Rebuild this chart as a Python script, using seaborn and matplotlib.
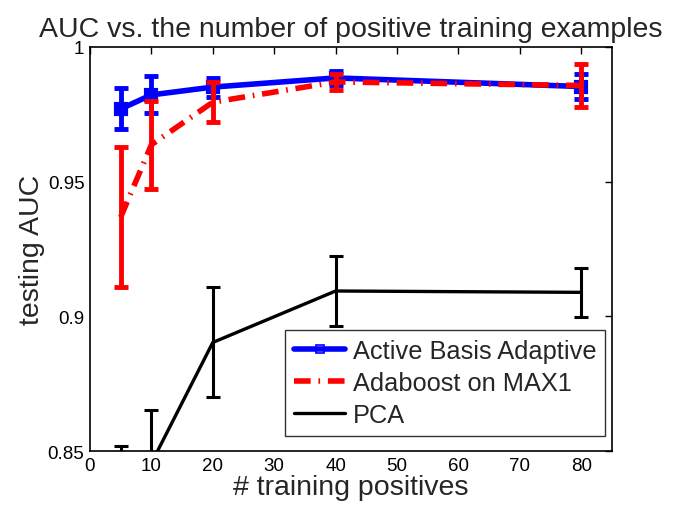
import matplotlib
matplotlib.use("Agg")
import matplotlib.pyplot as plt
from matplotlib.lines import Line2D
import seaborn as sns
import pandas as pd

# number of positive training examples
positives = [5, 10, 20, 40, 80]

# testing AUC (mean) and error half-widths for each method
active_basis = [0.9770, 0.9822, 0.9851, 0.9885, 0.9853]
active_basis_err = [0.0076, 0.0069, 0.0035, 0.0026, 0.0046]

adaboost = [0.9368, 0.9637, 0.9795, 0.9870, 0.9857]
adaboost_err = [0.0260, 0.0163, 0.0074, 0.0030, 0.0080]

pca = [0.8380, 0.8455, 0.8903, 0.9094, 0.9089]
pca_err = [0.0140, 0.0198, 0.0204, 0.0130, 0.0090]

series_names = ["Active Basis Adaptive", "Adaboost on MAX1", "PCA"]

DASH_DOT = [3, 1.4, 0.3, 1.4]

sns.set_style("white")
plt.rcParams["font.family"] = ["Liberation Sans", "DejaVu Sans"]

fig = plt.figure(figsize=(6.74, 5.1), dpi=100)
ax = fig.add_axes([0.1335, 0.1137, 0.7745, 0.7923])

df = pd.DataFrame({
    "positives": positives * 3,
    "auc": active_basis + adaboost + pca,
    "method": [series_names[0]] * 5 + [series_names[1]] * 5 + [series_names[2]] * 5,
})

# error bars first, lines on top
ax.errorbar(positives, pca, yerr=pca_err, fmt="none", ecolor="black",
            elinewidth=2.2, capsize=5, capthick=2.2, zorder=2)
ax.errorbar(positives, active_basis, yerr=active_basis_err, fmt="none",
            ecolor="blue", elinewidth=3.5, capsize=5, capthick=3.5, zorder=3)
ax.errorbar(positives, adaboost, yerr=adaboost_err, fmt="none",
            ecolor="red", elinewidth=3.5, capsize=5, capthick=3.5, zorder=4)

sns.lineplot(data=df[df["method"] == series_names[2]], x="positives", y="auc",
             color="black", linewidth=2.4, ax=ax, legend=False, zorder=2)
sns.lineplot(data=df[df["method"] == series_names[0]], x="positives", y="auc",
             color="blue", linewidth=4, marker="s", markersize=7,
             markerfacecolor="blue", markeredgecolor="blue", markeredgewidth=3,
             ax=ax, legend=False, zorder=3)
sns.lineplot(data=df[df["method"] == series_names[1]], x="positives", y="auc",
             color="red", linewidth=4, ax=ax, legend=False, zorder=4)
ax.lines[-1].set_dashes(DASH_DOT)

ax.set_xlim(0, 85)
ax.set_ylim(0.85, 1.0)
ax.set_xticks([0, 10, 20, 30, 40, 50, 60, 70, 80])
ax.set_yticks([0.85, 0.9, 0.95, 1.0])
ax.set_yticklabels(["0.85", "0.9", "0.95", "1"])

for s in ax.spines.values():
    s.set_visible(True)
    s.set_color("black")
    s.set_linewidth(1.2)
ax.tick_params(direction="in", length=5, width=1, top=True, right=True,
               labelsize=13.5, colors="black", pad=4)

ax.set_xlabel("# training positives", fontsize=20.5, labelpad=0)
ax.set_ylabel("testing AUC", fontsize=20.5, labelpad=2)
ax.set_title("AUC vs. the number of positive training examples", fontsize=20.5, pad=8)

handles = [
    Line2D([0], [0], color="blue", linewidth=4, marker="s", markersize=6,
           markerfacecolor="none", markeredgecolor="blue", markeredgewidth=1.2),
    Line2D([0], [0], color="red", linewidth=4, dashes=DASH_DOT),
    Line2D([0], [0], color="black", linewidth=2.4),
]
leg = ax.legend(handles, series_names, loc="lower right", fontsize=18.3,
                frameon=True, fancybox=False, edgecolor="black",
                borderpad=0.35, labelspacing=0.32, handlelength=2.0,
                handletextpad=0.3, borderaxespad=0.0,
                bbox_to_anchor=(0.987, 0.037))
leg.get_frame().set_linewidth(1.0)

fig.savefig("out.png", dpi=100, facecolor="white")
